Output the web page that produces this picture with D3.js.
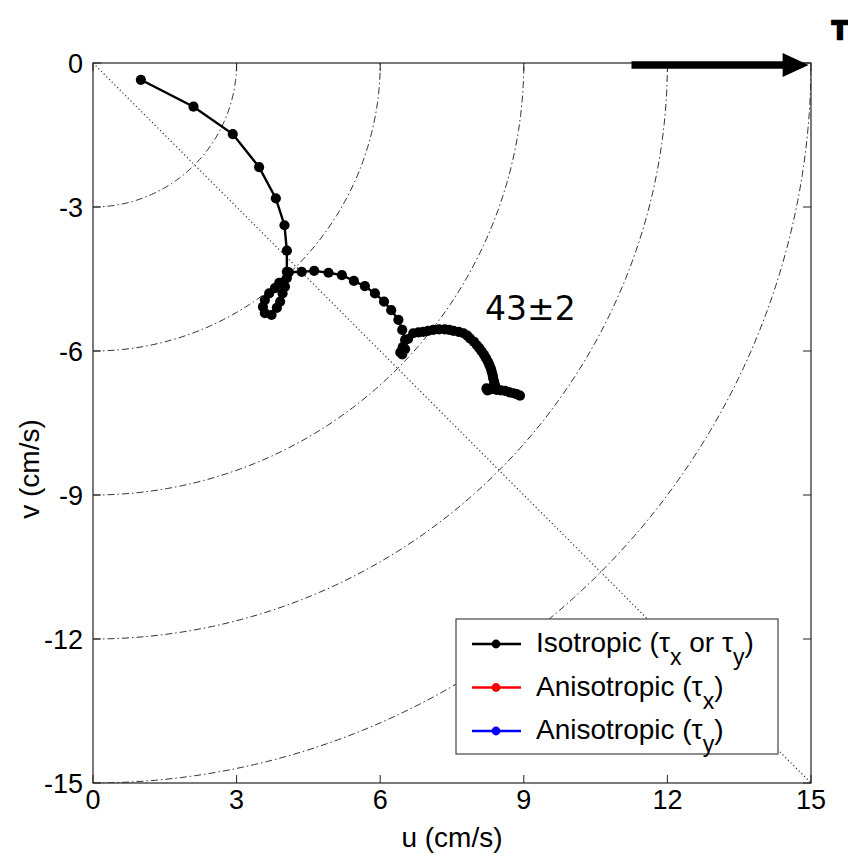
<!DOCTYPE html>
<html><head><meta charset="utf-8">
<script src="https://cdn.jsdelivr.net/npm/d3@7"></script>
<style>body{margin:0;background:#fff} svg{display:block}</style>
</head><body>
<svg id="c" width="848" height="858"></svg>
<script>
// ---- data ----
const uVals = [1.00,2.10,2.92,3.47,3.82,4.00,4.05,4.05,
  3.89,3.80,3.68,3.59,3.55,3.59,3.73,3.84,3.91,3.96,4.01,4.05,4.09,
  4.36,4.62,4.92,5.20,5.45,5.68,5.89,6.08,6.23,6.38,6.46,6.52,
  6.47,6.42,6.46,6.52,6.58,
  6.69,6.80,6.90,7.00,7.11,7.23,7.35,7.44,7.53,7.64,7.74,7.82,7.88,7.96,8.02,8.07,8.12,8.17,8.21,8.25,8.28,8.31,8.33,8.35,8.36,8.38,8.40,
  8.32,8.24,8.22,8.30,
  8.43,8.52,8.61,8.70,8.78,8.85,8.92];
const vVals = [-0.35,-0.91,-1.48,-2.17,-2.82,-3.38,-3.91,-4.35,
  -4.58,-4.69,-4.80,-4.94,-5.08,-5.21,-5.25,-5.10,-4.97,-4.80,-4.66,-4.48,-4.36,
  -4.35,-4.33,-4.37,-4.42,-4.54,-4.65,-4.80,-4.97,-5.15,-5.35,-5.56,-5.77,
  -5.92,-6.03,-6.07,-5.96,-5.75,
  -5.63,-5.61,-5.60,-5.58,-5.56,-5.55,-5.55,-5.56,-5.58,-5.60,-5.63,-5.68,-5.74,-5.81,-5.88,-5.94,-6.01,-6.08,-6.15,-6.22,-6.29,-6.36,-6.43,-6.50,-6.57,-6.64,-6.71,
  -6.78,-6.82,-6.78,-6.80,
  -6.81,-6.82,-6.83,-6.86,-6.88,-6.90,-6.93];
const circleRadii = [3,6,9,12,15];
const xTicks = [0,3,6,9,12,15];
const yTicks = [0,-3,-6,-9,-12,-15];
const xTitle = "u (cm/s)";
const yTitle = "v (cm/s)";
const annotationText = "43\u00B12";
const annotationPos = [8.19,-5.35];
const arrowFrom = 11.25, arrowTo = 14.95;
const legendNames = [
  [["Isotropic (\u03C4",0],["x",1],[" or \u03C4",0],["y",1],[")",0]],
  [["Anisotropic (\u03C4",0],["x",1],[")",0]],
  [["Anisotropic (\u03C4",0],["y",1],[")",0]]
];
const legendColors = ["#000000","#ff0000","#0000ff"];

// ---- drawing ----
const svg = d3.select("#c");
const L=93,R=811,T=63,B=783;
const x = d3.scaleLinear().domain([0,15]).range([L,R]);
const y = d3.scaleLinear().domain([-15,0]).range([B,T]);
const font = "'Liberation Sans', Arial, sans-serif";

svg.append("defs").append("clipPath").attr("id","clip")
  .append("rect").attr("x",L).attr("y",T).attr("width",R-L).attr("height",B-T);

const plot = svg.append("g").attr("clip-path","url(#clip)");

// reference circles
const angles = d3.range(0, 91, 1).map(a => a*Math.PI/180);
circleRadii.forEach(r => {
  plot.append("path")
    .attr("d", d3.line().x(a => x(r*Math.sin(a))).y(a => y(-r*Math.cos(a)))(angles))
    .attr("fill","none").attr("stroke","#333").attr("stroke-width",1)
    .attr("stroke-dasharray","7,3,1.5,3");
});
// 45 degree dotted line
plot.append("line")
  .attr("x1",x(0)).attr("y1",y(0)).attr("x2",x(15)).attr("y2",y(-15))
  .attr("stroke","#333").attr("stroke-width",1.2).attr("stroke-dasharray","1.2,2.6");

// data
const pts = uVals.map((u,i)=>[u,vVals[i]]);
plot.append("path")
  .attr("d", d3.line().x(d=>x(d[0])).y(d=>y(d[1]))(pts))
  .attr("fill","none").attr("stroke","#000").attr("stroke-width",2.4);
plot.selectAll("circle.pt").data(pts).enter().append("circle")
  .attr("class","pt").attr("cx",d=>x(d[0])).attr("cy",d=>y(d[1])).attr("r",5.1).attr("fill","#000");

// annotation
svg.append("text").attr("x",x(annotationPos[0])).attr("y",y(annotationPos[1]))
  .attr("font-family","'DejaVu Sans', sans-serif").attr("font-size",33).attr("fill","#000")
  .text(annotationText);

// frame
svg.append("rect").attr("x",L).attr("y",T).attr("width",R-L).attr("height",B-T)
  .attr("fill","none").attr("stroke","#222").attr("stroke-width",1.2);

// ticks (inside, all four sides)
const tl = 8;
const tg = svg.append("g").attr("stroke","#222").attr("stroke-width",1);
xTicks.forEach(t=>{
  tg.append("line").attr("x1",x(t)).attr("x2",x(t)).attr("y1",B).attr("y2",B-tl);
  tg.append("line").attr("x1",x(t)).attr("x2",x(t)).attr("y1",T).attr("y2",T+tl);
});
yTicks.forEach(t=>{
  tg.append("line").attr("y1",y(t)).attr("y2",y(t)).attr("x1",L).attr("x2",L+tl);
  tg.append("line").attr("y1",y(t)).attr("y2",y(t)).attr("x1",R).attr("x2",R-tl);
});

// tick labels
svg.append("g").selectAll("text").data(xTicks).enter().append("text")
  .attr("x",d=>x(d)).attr("y",B+26).attr("text-anchor","middle")
  .attr("font-family",font).attr("font-size",27).text(d=>d);
svg.append("g").selectAll("text").data(yTicks).enter().append("text")
  .attr("x",L-10).attr("y",d=>y(d)+10).attr("text-anchor","end")
  .attr("font-family",font).attr("font-size",27).text(d=>d);

// axis titles
svg.append("text").attr("x",(L+R)/2+0).attr("y",847).attr("text-anchor","middle")
  .attr("font-family",font).attr("font-size",28).text(xTitle);
svg.append("text").attr("transform","translate(39,469) rotate(-90)").attr("text-anchor","middle")
  .attr("font-family",font).attr("font-size",28).text(yTitle);

// arrow
svg.append("line").attr("x1",x(arrowFrom)).attr("x2",x(arrowTo)-22).attr("y1",y(0)+2).attr("y2",y(0)+2)
  .attr("stroke","#000").attr("stroke-width",7.5);
svg.append("path")
  .attr("d",`M${x(arrowTo)-26},${y(0)+2-12} L${x(arrowTo)},${y(0)+2} L${x(arrowTo)-26},${y(0)+2+12} Z`)
  .attr("fill","#000");
svg.append("text").attr("x",840).attr("y",39).attr("text-anchor","middle")
  .attr("font-family",font).attr("font-weight","bold").attr("font-size",26)
  .attr("stroke","#000").attr("stroke-width",2.5).text("T");

// legend
const lg = svg.append("g");
lg.append("rect").attr("x",456).attr("y",619).attr("width",322).attr("height",135)
  .attr("fill","#fff").attr("stroke","#444").attr("stroke-width",1.2);
legendNames.forEach((parts,i)=>{
  const ry = 644 + i*43.5;
  lg.append("line").attr("x1",472).attr("x2",521).attr("y1",ry).attr("y2",ry)
    .attr("stroke",legendColors[i]).attr("stroke-width",2.4);
  lg.append("circle").attr("cx",496).attr("cy",ry).attr("r",4.4).attr("fill",legendColors[i]);
  const t = lg.append("text").attr("x",536).attr("y",ry+8).attr("font-family",font).attr("font-size",28);
  let sub=false;
  parts.forEach(p=>{
    const ts = t.append("tspan").text(p[0]);
    if(p[1] && !sub){ ts.attr("dy",13).attr("font-size",23); sub=true; }
    else if(p[1] && sub){ ts.attr("font-size",23); }
    else if(!p[1] && sub){ ts.attr("dy",-13); sub=false; }
  });
});
</script>
</body></html>
